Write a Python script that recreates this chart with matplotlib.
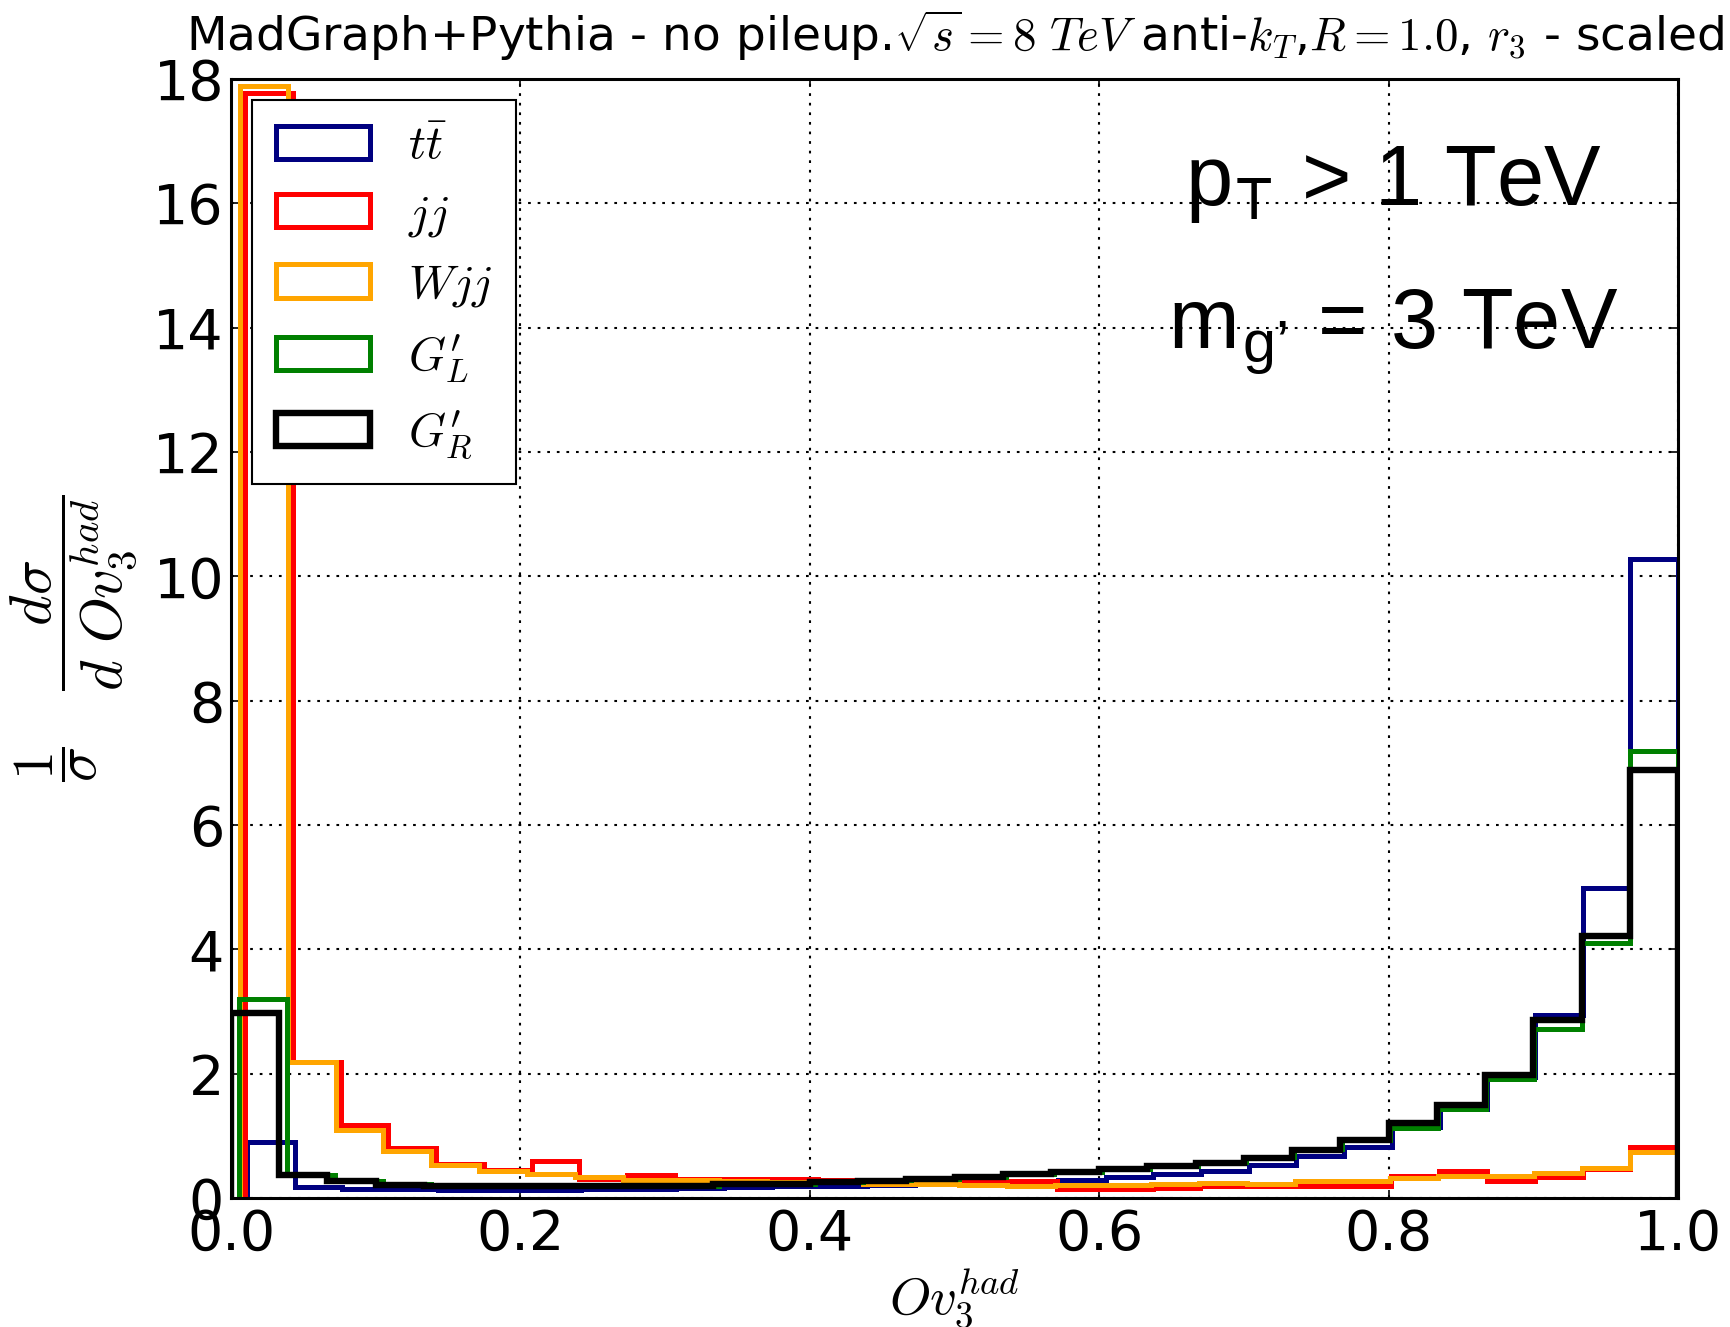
import numpy as np
import matplotlib
matplotlib.use("Agg")
import matplotlib.pyplot as plt

plt.rcParams["mathtext.fontset"] = "cm"
plt.rcParams["font.family"] = "DejaVu Sans"

# lower edge of each histogram (30 bins from min to 1.0)
lo_tt, lo_jj, lo_wjj, lo_gl, lo_gr = 0.011, 0.0097, 0.006, 0.0055, 0.0
n_bins = 30

# bin contents, normalised
tt = [0.90, 0.18, 0.15, 0.14, 0.13, 0.13, 0.13, 0.14, 0.15, 0.16,
      0.17, 0.19, 0.20, 0.21, 0.23, 0.25, 0.27, 0.29, 0.33, 0.38,
      0.43, 0.53, 0.68, 0.82, 1.14, 1.43, 1.95, 2.95, 4.99, 10.28]
jj = [17.78, 2.18, 1.18, 0.80, 0.55, 0.45, 0.59, 0.30, 0.37, 0.30,
      0.30, 0.30, 0.29, 0.28, 0.27, 0.25, 0.27, 0.15, 0.15, 0.16,
      0.19, 0.19, 0.20, 0.20, 0.36, 0.43, 0.27, 0.33, 0.46, 0.82]
wjj = [17.89, 2.18, 1.10, 0.75, 0.53, 0.44, 0.39, 0.33, 0.29, 0.29,
       0.28, 0.26, 0.25, 0.23, 0.22, 0.21, 0.20, 0.21, 0.21, 0.22,
       0.24, 0.23, 0.27, 0.28, 0.32, 0.35, 0.36, 0.40, 0.48, 0.74]
gl = [3.20, 0.37, 0.27, 0.22, 0.20, 0.19, 0.19, 0.19, 0.20, 0.20,
      0.22, 0.23, 0.26, 0.29, 0.31, 0.34, 0.38, 0.42, 0.46, 0.52,
      0.58, 0.66, 0.79, 0.93, 1.13, 1.43, 1.92, 2.72, 4.10, 7.19]
gr = [2.98, 0.37, 0.27, 0.21, 0.19, 0.19, 0.19, 0.19, 0.20, 0.20,
      0.22, 0.23, 0.25, 0.28, 0.30, 0.34, 0.38, 0.42, 0.47, 0.51,
      0.57, 0.64, 0.78, 0.94, 1.20, 1.50, 1.98, 2.86, 4.21, 6.89]

series = [
    (tt, lo_tt, "#000080", r"$t\bar{t}$", 3.6),
    (jj, lo_jj, "red", r"$jj$", 3.6),
    (wjj, lo_wjj, "orange", r"$Wjj$", 3.6),
    (gl, lo_gl, "green", r"$G^{\prime}_L$", 3.6),
    (gr, lo_gr, "black", r"$G^{\prime}_R$", 4.6),
]

fig = plt.figure(figsize=(17.3, 13.27), dpi=100)
ax = fig.add_axes([0.1335, 0.0972, 0.8365, 0.8433])

for vals, lo, col, lab, lw in series:
    edges = np.linspace(lo, 1.0, n_bins + 1)
    ax.hist(edges[:-1], bins=edges, weights=vals, histtype="step",
            color=col, linewidth=lw, label=lab)

ax.set_xlim(0, 1)
ax.set_ylim(0, 18)
ax.set_xticks(np.arange(0, 1.01, 0.2))
ax.set_yticks(np.arange(0, 19, 2))
ax.set_xticklabels(["0.0", "0.2", "0.4", "0.6", "0.8", "1.0"])
ax.tick_params(direction="in", top=True, right=True, length=6, width=1.2,
               labelsize=40)
ax.tick_params(axis="x", pad=7)
ax.tick_params(axis="y", pad=5)
for sp in ax.spines.values():
    sp.set_linewidth(2.2)
ax.grid(True, color="black", linestyle=(0, (1.3, 3.3)), linewidth=1.5)

leg = ax.legend(loc="upper left", fontsize=34, fancybox=False,
                framealpha=1, edgecolor="black", labelspacing=0.5,
                borderpad=0.5, borderaxespad=0.45, handlelength=2.0,
                handletextpad=0.8)
leg.get_frame().set_linewidth(1.5)

ax.set_title(r"MadGraph+Pythia - no pileup.$\sqrt{s}=8\ TeV$ anti-$k_T$,$R=1.0$, $r_3$ - scaled",
             fontsize=33.8, pad=20)
ax.set_xlabel(r"$Ov_3^{had}$", fontsize=38, labelpad=4)
ax.set_ylabel(r"$\dfrac{1}{\sigma}\ \ \ \dfrac{d\sigma}{d\ Ov_3^{had}}$", fontsize=42, labelpad=10)

ax.text(0.803, 0.887, r"p$_{\mathregular{T}}$ > 1 TeV", transform=ax.transAxes,
        ha="center", va="baseline", fontsize=61, family="Liberation Sans")
ax.text(0.803, 0.76, "m$_{\\mathregular{g\u2019}}$ = 3 TeV", transform=ax.transAxes,
        ha="center", va="baseline", fontsize=61, family="Liberation Sans")

fig.savefig("out.png", dpi=100)
